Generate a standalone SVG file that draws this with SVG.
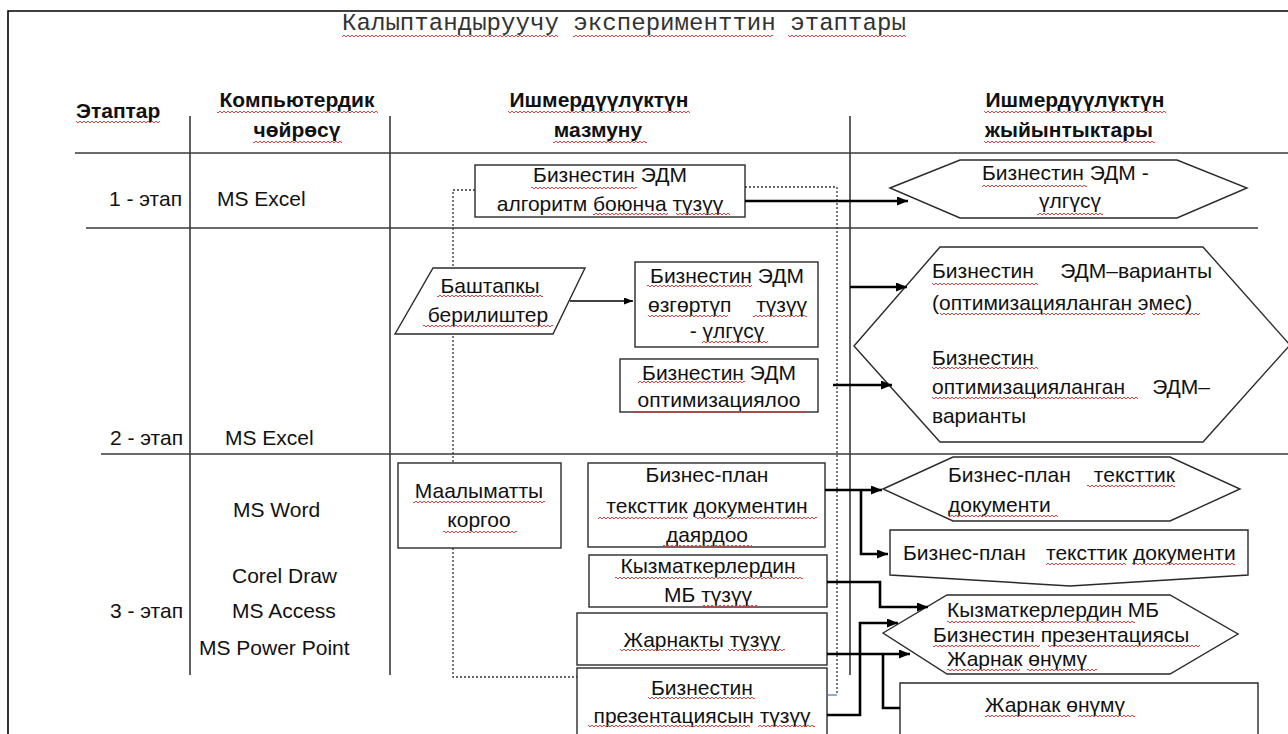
<svg xmlns="http://www.w3.org/2000/svg" width="1288" height="734" viewBox="0 0 1288 734">
<style>
.t{font-family:"Liberation Sans",Arial,sans-serif;font-size:21px;fill:#111}
.b{font-weight:bold}
.m{text-anchor:middle}
.e{text-anchor:end}
.mono{font-family:"Liberation Mono","Courier New",monospace;font-size:24.1px;fill:#333}
.grid{stroke:#3a3a3a;stroke-width:1.6;fill:none}
.node{fill:#fff;stroke:#2a2a2a;stroke-width:1.4}
.dot{fill:none;stroke:#333;stroke-width:1.3;stroke-dasharray:2 2}
.arr{fill:none;stroke:#000;stroke-width:2.6}
.thin{fill:none;stroke:#000;stroke-width:1.3}
.w0{fill:url(#wv)}
.w2{fill:url(#wv2)}
</style>
<defs>
<marker id="ah" markerWidth="11" markerHeight="9" refX="11" refY="4.5" orient="auto" markerUnits="userSpaceOnUse"><path d="M0,0 L11,4.5 L0,9 z" fill="#000"/></marker>
<marker id="ah2" markerWidth="9" markerHeight="7" refX="9" refY="3.5" orient="auto" markerUnits="userSpaceOnUse"><path d="M0,0 L9,3.5 L0,7 z" fill="#000"/></marker>
<pattern id="wv" x="0" y="0" width="4" height="4" patternUnits="userSpaceOnUse"><path d="M0,1 L2,3 L4,1" stroke="#e03030" stroke-width="0.9" fill="none"/></pattern>
<pattern id="wv2" x="0" y="2" width="4" height="4" patternUnits="userSpaceOnUse"><path d="M0,1 L2,3 L4,1" stroke="#e03030" stroke-width="0.9" fill="none"/></pattern>
</defs>
<rect width="1288" height="734" fill="#fff"/>
<g id="page">
<path d="M8,734 V11 H1288" fill="none" stroke="#000" stroke-width="1.6"/>
<text class="mono" x="342" y="30">Калыптандыруучу эксперименттин этаптары</text>
</g>
<g id="table">
<path class="grid" d="M75,153 H1288 M86,228 H1258 M101,454 H1288 M190,116 V675 M390,116 V675 M850,116 V675"/>
<text class="t b" x="76" y="118">Этаптар</text>
<text class="t b m" x="297" y="107">Компьютердик</text>
<text class="t b m" x="297" y="137">чөйрөсү</text>
<text class="t b m" x="599" y="107">Ишмердүүлүктүн</text>
<text class="t b m" x="598" y="137">мазмуну</text>
<text class="t b m" x="1075" y="107">Ишмердүүлүктүн</text>
<text class="t b m" x="1069" y="137">жыйынтыктары</text>
<text class="t e" x="182" y="206">1 - этап</text>
<text class="t" x="217" y="206">MS Excel</text>
<text class="t e" x="183" y="445">2 - этап</text>
<text class="t" x="225" y="445">MS Excel</text>
<text class="t" x="233" y="517">MS Word</text>
<text class="t" x="232" y="583">Corel Draw</text>
<text class="t e" x="183" y="618">3 - этап</text>
<text class="t" x="232" y="618">MS Access</text>
<text class="t" x="199" y="655">MS Power Point</text>
</g>
<g id="dotted-connectors">
<path class="dot" d="M475,190 H453 V677 H577"/>
<path class="dot" d="M745,187 H837 V695"/>
<path d="M828,695 H837" stroke="#4472c4" stroke-width="1.2" fill="none"/>
</g>
<g id="n1">
<rect class="node" x="475" y="165" width="270" height="52"/>
<text class="t m" x="610" y="182">Бизнестин ЭДМ</text>
<text class="t m" x="610" y="211">алгоритм боюнча түзүү</text>
</g>
<g id="r1">
<polygon class="node" points="890,188 960,160 1177,160 1247,188 1177,218 960,218"/>
<text class="t" x="982" y="180">Бизнестин ЭДМ -</text>
<text class="t m" x="1070" y="208">үлгүсү</text>
</g>
<g id="n2">
<polygon class="node" points="433,268 585,268 553,334 395,334"/>
<text class="t m" x="490" y="293">Баштапкы</text>
<text class="t m" x="488" y="322">берилиштер</text>
</g>
<g id="n3">
<rect class="node" x="635" y="262" width="183" height="85"/>
<text class="t m" x="727" y="283">Бизнестин ЭДМ</text>
<text class="t" x="648" y="312">өзгөртүп</text>
<text class="t e" x="807" y="312">түзүү</text>
<text class="t m" x="727" y="338">- үлгүсү</text>
</g>
<g id="n4">
<rect class="node" x="620" y="359" width="198" height="53"/>
<text class="t m" x="719" y="380">Бизнестин ЭДМ</text>
<text class="t m" x="719" y="407">оптимизациялоо</text>
</g>
<g id="r2">
<polygon class="node" points="854,346 940,247 1203,247 1290,345 1203,442 940,442"/>
<text class="t" x="932" y="278">Бизнестин</text>
<text class="t e" x="1212" y="278">ЭДМ–варианты</text>
<text class="t" x="932" y="310">(оптимизацияланган эмес)</text>
<text class="t" x="932" y="365">Бизнестин</text>
<text class="t" x="932" y="394">оптимизацияланган</text>
<text class="t e" x="1210" y="394">ЭДМ–</text>
<text class="t" x="932" y="423">варианты</text>
</g>
<g id="n5">
<rect class="node" x="398" y="463" width="163" height="85"/>
<text class="t m" x="479" y="498">Маалыматты</text>
<text class="t m" x="479" y="527">коргоо</text>
</g>
<g id="n6">
<rect class="node" x="588" y="463" width="237" height="84"/>
<text class="t m" x="707" y="482">Бизнес-план</text>
<text class="t m" x="707" y="513">тексттик документин</text>
<text class="t m" x="707" y="542">даярдоо</text>
</g>
<g id="n7">
<rect class="node" x="589" y="555" width="238" height="52"/>
<text class="t m" x="708" y="573">Кызматкерлердин</text>
<text class="t m" x="708" y="602">МБ түзүү</text>
</g>
<g id="n8">
<rect class="node" x="577" y="613" width="250" height="52"/>
<text class="t m" x="702" y="647">Жарнакты түзүү</text>
</g>
<g id="n9">
<rect class="node" x="577" y="668" width="250" height="80"/>
<text class="t m" x="702" y="695">Бизнестин</text>
<text class="t m" x="702" y="723">презентациясын түзүү</text>
</g>
<g id="r3">
<polygon class="node" points="883,489 953,457 1170,457 1240,489 1170,521 953,521"/>
<text class="t" x="948" y="482">Бизнес-план</text>
<text class="t e" x="1175" y="482">тексттик</text>
<text class="t" x="948" y="512">документи</text>
</g>
<g id="r4">
<path class="node" d="M890,530 H1248 V575 L1070,586 L890,575 Z"/>
<text class="t" x="903" y="560">Бизнес-план</text>
<text class="t" x="1046" y="560">тексттик документи</text>
</g>
<g id="r5">
<polygon class="node" points="883,633 947,595 1170,595 1238,634 1170,674 947,674"/>
<text class="t" x="947" y="617">Кызматкерлердин МБ</text>
<text class="t" x="933" y="642">Бизнестин презентациясы</text>
<text class="t" x="947" y="666">Жарнак өнүмү</text>
</g>
<g id="r6">
<path class="node" d="M900,683 H1258 V745 L1079,755 L900,745 Z"/>
<text class="t" x="985" y="712">Жарнак өнүмү</text>
</g>
<g id="spellcheck">
<rect class="w2" x="342" y="34" width="216" height="4"/>
<rect class="w2" x="573" y="34" width="200" height="4"/>
<rect class="w2" x="788" y="34" width="118" height="4"/>
<rect class="w0" x="76" y="120" width="84" height="4"/>
<rect class="w2" x="217" y="110" width="161" height="4"/>
<rect class="w0" x="253" y="140" width="89" height="4"/>
<rect class="w2" x="508" y="110" width="182" height="4"/>
<rect class="w0" x="553" y="140" width="94" height="4"/>
<rect class="w2" x="984" y="110" width="182" height="4"/>
<rect class="w0" x="984" y="140" width="171" height="4"/>
<rect class="w2" x="531" y="186" width="106" height="4"/>
<rect class="w0" x="593" y="212" width="75" height="4"/>
<rect class="w0" x="676" y="212" width="54" height="4"/>
<rect class="w0" x="982" y="184" width="105" height="4"/>
<rect class="w0" x="1037" y="212" width="66" height="4"/>
<rect class="w2" x="437" y="294" width="106" height="4"/>
<rect class="w0" x="423" y="324" width="130" height="4"/>
<rect class="w0" x="647" y="284" width="105" height="4"/>
<rect class="w2" x="648" y="314" width="80" height="4"/>
<rect class="w2" x="753" y="314" width="54" height="4"/>
<rect class="w0" x="702" y="340" width="66" height="4"/>
<rect class="w0" x="638" y="380" width="107" height="4"/>
<rect class="w2" x="633" y="410" width="172" height="4"/>
<rect class="w2" x="932" y="282" width="106" height="4"/>
<rect class="w0" x="940" y="312" width="205" height="4"/>
<rect class="w0" x="1152" y="312" width="48" height="4"/>
<rect class="w2" x="932" y="366" width="106" height="4"/>
<rect class="w0" x="932" y="396" width="206" height="4"/>
<rect class="w0" x="413" y="500" width="132" height="4"/>
<rect class="w2" x="443" y="530" width="74" height="4"/>
<rect class="w0" x="598" y="516" width="90" height="4"/>
<rect class="w0" x="695" y="516" width="122" height="4"/>
<rect class="w0" x="663" y="544" width="89" height="4"/>
<rect class="w0" x="615" y="576" width="188" height="4"/>
<rect class="w0" x="702" y="604" width="55" height="4"/>
<rect class="w0" x="620" y="648" width="100" height="4"/>
<rect class="w0" x="728" y="648" width="57" height="4"/>
<rect class="w0" x="648" y="696" width="107" height="4"/>
<rect class="w0" x="588" y="724" width="162" height="4"/>
<rect class="w0" x="758" y="724" width="57" height="4"/>
<rect class="w0" x="1087" y="484" width="88" height="4"/>
<rect class="w2" x="948" y="514" width="110" height="4"/>
<rect class="w2" x="1046" y="562" width="80" height="4"/>
<rect class="w2" x="1132" y="562" width="103" height="4"/>
<rect class="w0" x="947" y="620" width="188" height="4"/>
<rect class="w0" x="933" y="644" width="107" height="4"/>
<rect class="w0" x="1048" y="644" width="152" height="4"/>
<rect class="w0" x="947" y="668" width="73" height="4"/>
<rect class="w0" x="1027" y="668" width="70" height="4"/>
<rect class="w2" x="985" y="714" width="85" height="4"/>
<rect class="w2" x="1078" y="714" width="57" height="4"/>
</g>
<g id="connectors">
<path class="arr" d="M745,201 H908" marker-end="url(#ah)"/>
<path class="thin" d="M570,301 H633" marker-end="url(#ah2)"/>
<path class="arr" d="M850,287 H907" marker-end="url(#ah)"/>
<path class="arr" d="M833,385 H892" marker-end="url(#ah)"/>
<path class="arr" d="M825,490 H882" marker-end="url(#ah)"/>
<path class="arr" d="M861,490 V554 H888" marker-end="url(#ah)"/>
<path class="arr" d="M827,582 H880 V607 H928" marker-end="url(#ah)"/>
<path class="arr" d="M827,654 H910" marker-end="url(#ah)"/>
<path class="arr" d="M883,654 V708 H900"/>
<path class="arr" d="M827,715 H860 V623 H898" marker-end="url(#ah)"/>
</g>
</svg>
